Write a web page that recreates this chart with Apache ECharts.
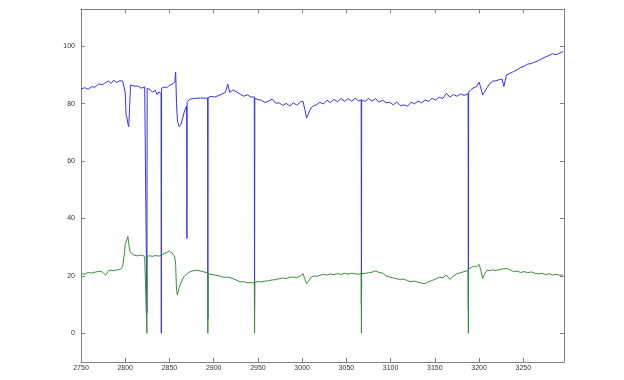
<!DOCTYPE html>
<html>
<head>
<meta charset="utf-8">
<script src="https://cdn.jsdelivr.net/npm/echarts@6/dist/echarts.min.js"></script>
<style>
html,body{margin:0;padding:0;background:#fff;}
#chart{width:624px;height:380px;}
</style>
</head>
<body>
<div id="chart"></div>
<script>
const xs = [2750,2754,2758,2762,2766,2770,2774,2778,2781,2784,2787,2790,2794,2797,2799,2800,2801,2802,2803,2804,2805,2806,2807,2810,2814,2818,2822,2824.2,2824.5,2824.8,2828,2831,2834,2836,2838,2840.5,2840.8,2841.1,2844,2847,2850,2853,2856,2857,2858,2859,2861,2863,2865,2867,2869.4,2869.7,2870,2873,2877,2881,2885,2889,2893.1,2893.4,2893.7,2897,2901,2905,2909,2913,2916,2918,2922,2926,2930,2934,2938,2942,2945.9,2946.2,2946.5,2950,2954,2958,2962,2966,2970,2974,2978,2982,2986,2990,2994,2998,3001,3003,3005,3007,3010,3013,3016,3020,3024,3028,3032,3036,3040,3044,3048,3052,3056,3060,3064,3066.7,3067,3067.3,3071,3075,3079,3083,3087,3091,3095,3099,3103,3107,3111,3115,3119,3123,3127,3131,3135,3139,3143,3147,3151,3155,3159,3163,3167,3171,3175,3179,3183,3187.6,3187.9,3188.2,3191,3194,3197,3200,3202,3204,3206,3209,3212,3215,3219,3223,3226,3228,3231,3235,3239,3243,3247,3251,3255,3259,3263,3267,3271,3275,3279,3283,3287,3291,3295];

const blue = [85.0,85.6,85.0,85.9,85.8,86.9,86.6,87.4,87.9,87.1,88.2,87.4,88.0,87.9,87.8,84.0,76.0,75.0,73.0,72.0,79.0,86.5,87.0,86.1,86.2,85.4,85.9,85.5,7,85.4,84.9,84.0,84.7,83.2,84.1,83.5,0,85.4,85.8,85.6,86.4,86.8,87.5,91.0,80.0,74.0,72.0,72.8,75.0,77.5,79.2,33.0,80.5,81.6,81.8,81.9,82.0,81.9,82.0,5,82.1,82.6,82.3,82.8,83.3,83.9,86.8,84.0,84.8,84.1,83.3,82.6,83.1,82.3,82.4,9,81.9,81.4,81.2,80.4,80.9,81.6,80.2,80.3,79.4,80.1,79.2,80.3,79.5,80.6,80.8,78.0,75.0,76.5,78.5,79.3,79.6,80.5,79.9,81.2,80.4,81.5,80.7,81.8,80.8,81.7,80.9,81.9,80.9,81.4,10,81.3,80.8,81.8,80.9,81.7,80.6,81.2,80.3,80.5,79.6,80.6,79.3,79.6,79.1,80.5,80.0,80.9,80.3,81.3,80.8,81.9,81.2,82.3,81.8,83.6,82.3,83.2,82.6,83.4,82.9,83.4,8,84.0,85.0,85.6,86.0,87.5,85.5,83.0,84.0,85.6,87.0,87.8,88.0,88.4,88.6,86.0,90.0,90.6,91.2,91.8,92.6,93.1,93.8,94.0,94.5,95.0,95.7,96.3,96.8,97.4,97.1,97.6,98.2];

const green = [20.8,20.6,21.2,21.0,21.3,21.6,21.4,20.3,21.8,22.0,21.8,22.1,22.2,23.0,27.5,31.0,31.8,31.5,33.8,31.0,29.0,28.2,27.8,27.2,27.0,27.3,26.8,27.0,0,26.9,27.0,26.8,27.1,26.6,26.9,27.2,27.0,27.4,27.8,28.2,28.6,28.0,26.6,24.0,15.0,13.3,16.0,17.5,19.0,20.0,20.6,20.6,20.7,21.4,21.8,22.0,21.7,21.4,21.0,0,20.8,20.5,20.3,20.1,19.7,19.5,19.6,19.3,19.0,18.5,17.9,18.0,17.6,17.7,17.5,0,17.8,18.0,17.9,18.2,18.3,18.6,18.7,19.0,19.3,19.1,19.5,19.6,19.4,20.0,20.8,19.0,17.3,18.0,19.5,20.0,19.8,20.2,20.5,20.3,20.7,20.4,20.8,20.5,20.9,20.6,20.9,20.7,20.6,20.9,0,20.8,20.9,21.1,21.3,21.7,21.2,21.0,20.0,19.6,19.3,19.0,18.7,18.9,18.3,18.0,18.2,17.8,17.5,17.3,18.0,18.4,18.9,19.6,19.3,20.3,18.8,19.9,20.8,21.1,21.5,21.9,0,22.4,22.9,23.4,23.1,24.0,22.0,19.1,20.5,22.0,21.8,22.1,21.9,22.2,22.4,22.0,22.6,22.1,21.5,21.7,21.2,21.5,21.1,21.4,20.9,20.7,20.9,20.4,20.8,20.3,20.6,20.2,20.4];

const xTicks = [2750,2800,2850,2900,2950,3000,3050,3100,3150,3200,3250];
const yTicks = [0,20,40,60,80,100];

const xMin = 2750, xMax = 3296, yMin = -10, yMax = 113;

const axisColor = '#808080';
const labelStyle = {color:'#333', fontSize:7, fontFamily:'Liberation Sans, Arial, sans-serif'};

const chart = echarts.init(document.getElementById('chart'), null, {renderer:'canvas'});
chart.setOption({
  animation:false,
  backgroundColor:'#fff',
  grid:{left:81, right:60, top:9, bottom:18, containLabel:false},
  xAxis:[
    {type:'value', min:xMin, max:xMax, position:'bottom',
     axisLine:{show:true, onZero:false, lineStyle:{color:axisColor, width:1}},
     axisTick:{show:true, inside:true, length:4, customValues:xTicks, lineStyle:{color:axisColor}},
     axisLabel:Object.assign({show:true, margin:3, customValues:xTicks, formatter:(v)=>String(v)}, labelStyle),
     splitLine:{show:false}},
    {type:'value', min:xMin, max:xMax, position:'top',
     axisLine:{show:true, onZero:false, lineStyle:{color:axisColor, width:1}},
     axisTick:{show:true, inside:true, length:4, customValues:xTicks, lineStyle:{color:axisColor}},
     axisLabel:{show:false},
     splitLine:{show:false}}
  ],
  yAxis:[
    {type:'value', min:yMin, max:yMax, position:'left',
     axisLine:{show:true, onZero:false, lineStyle:{color:axisColor, width:1}},
     axisTick:{show:true, inside:true, length:4, customValues:yTicks, lineStyle:{color:axisColor}},
     axisLabel:Object.assign({show:true, margin:6, customValues:yTicks, formatter:(v)=>String(v)}, labelStyle),
     splitLine:{show:false}},
    {type:'value', min:yMin, max:yMax, position:'right',
     axisLine:{show:true, onZero:false, lineStyle:{color:axisColor, width:1}},
     axisTick:{show:true, inside:true, length:4, customValues:yTicks, lineStyle:{color:axisColor}},
     axisLabel:{show:false},
     splitLine:{show:false}}
  ],
  series:[
    {type:'line', name:'blue', xAxisIndex:0, yAxisIndex:0,
     data: xs.map((x,i)=>[x, blue[i]]), showSymbol:false, symbol:'none',
     lineStyle:{color:'#3434f0', width:1}, itemStyle:{color:'#3434f0'}},
    {type:'line', name:'green', xAxisIndex:0, yAxisIndex:0,
     data: xs.map((x,i)=>[x, green[i]]), showSymbol:false, symbol:'none',
     lineStyle:{color:'#3a8f3a', width:1}, itemStyle:{color:'#3a8f3a'}}
  ]
});
</script>
</body>
</html>
